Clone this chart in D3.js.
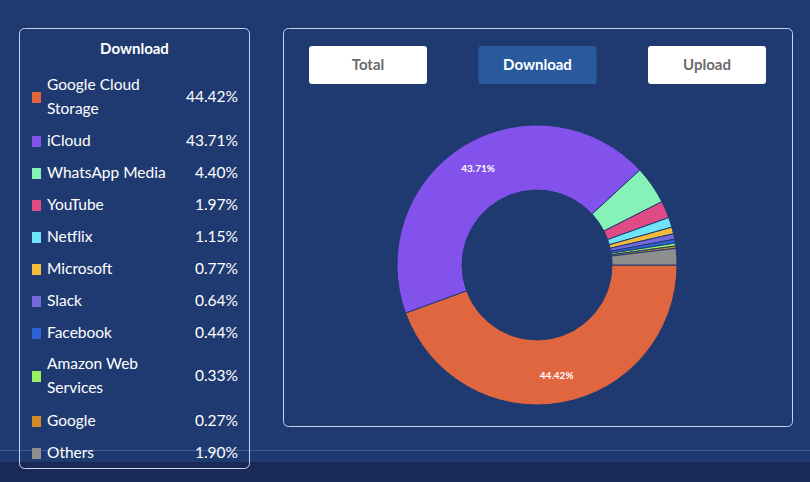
<!DOCTYPE html>
<meta charset="utf-8">
<style>
body { margin:0; background:#1f3a70; font-family:Lato, "Noto Sans", sans-serif; }
svg { display:block; }
</style>
<svg id="chart" width="810" height="482"></svg>
<script src="https://cdn.jsdelivr.net/npm/d3@7"></script>
<script>
var names = ["Google Cloud Storage", "iCloud", "WhatsApp Media", "YouTube", "Netflix", "Microsoft", "Slack", "Facebook", "Amazon Web Services", "Google", "Others"];
var values = [44.42, 43.71, 4.40, 1.97, 1.15, 0.77, 0.64, 0.44, 0.33, 0.27, 1.90];
var colors = ["#e06640", "#8352ec", "#87f2b8", "#e04a85", "#6fe3f7", "#f2bb3a", "#7468dc", "#2f62d6", "#9bef62", "#d18c28", "#8e8e8e"];
var buttons = ["Total", "Download", "Upload"];
var title = "Download";

var svg = d3.select("#chart");

// bottom band
svg.append("rect").attr("x", 0).attr("y", 462).attr("width", 810).attr("height", 20).attr("fill", "#182a55");
svg.append("line").attr("x1", 0).attr("x2", 810).attr("y1", 450.5).attr("y2", 450.5).attr("stroke", "#3d5c98").attr("stroke-width", 1);

// legend box
svg.append("rect").attr("x", 19.5).attr("y", 28.5).attr("width", 230).attr("height", 440).attr("rx", 5)
  .attr("fill", "none").attr("stroke", "#c8d3ea").attr("stroke-width", 1);
svg.append("text").attr("x", 134.5).attr("y", 54).attr("text-anchor", "middle")
  .attr("fill", "#fff").attr("font-weight", "bold").attr("font-size", 15).text(title);

var rowY = [97, 141, 173, 205, 237, 269, 301, 333, 376, 421, 453];
var wrap = { "Google Cloud Storage": ["Google Cloud", "Storage"], "Amazon Web Services": ["Amazon Web", "Services"] };
var rows = svg.append("g").selectAll("g").data(names).join("g")
  .attr("transform", function(d, i) { return "translate(0," + rowY[i] + ")"; });
rows.append("rect").attr("x", 32).attr("y", -5).attr("width", 9).attr("height", 11)
  .attr("fill", function(d, i) { return colors[i]; });
rows.each(function(d) {
  var lines = wrap[d] || [d];
  var t = d3.select(this).append("text").attr("fill", "#fff").attr("font-size", 15.5).attr("x", 47);
  lines.forEach(function(l, k) {
    t.append("tspan").attr("x", 47).attr("y", 5 + (k - (lines.length - 1) / 2) * 24).text(l);
  });
});
rows.append("text").attr("x", 238).attr("y", 5).attr("text-anchor", "end")
  .attr("fill", "#fff").attr("font-size", 15.5).text(function(d, i) { return values[i].toFixed(2) + "%"; });

// panel
svg.append("rect").attr("x", 283.5).attr("y", 28.5).attr("width", 509).attr("height", 398).attr("rx", 5)
  .attr("fill", "none").attr("stroke", "#c8d3ea").attr("stroke-width", 1);

var bx = d3.scalePoint().domain(buttons).range([368, 707]);
var b = svg.append("g").selectAll("g").data(buttons).join("g")
  .attr("transform", function(d) { return "translate(" + bx(d) + ",65)"; });
b.append("rect").attr("x", -59).attr("y", -19).attr("width", 118).attr("height", 38).attr("rx", 3)
  .attr("fill", function(d) { return d === title ? "#2a5a9e" : "#fff"; });
b.append("text").attr("y", 5).attr("text-anchor", "middle").attr("font-size", 15).attr("font-weight", "bold")
  .attr("fill", function(d) { return d === title ? "#fff" : "#6b6b6b"; }).text(function(d) { return d; });

// donut
var pie = d3.pie().sort(null).startAngle(Math.PI / 2).endAngle(Math.PI / 2 + 2 * Math.PI);
var arcs = pie(values);
var arc = d3.arc().innerRadius(75).outerRadius(140);
var g = svg.append("g").attr("transform", "translate(537,265)");
g.selectAll("path").data(arcs).join("path").attr("d", arc)
  .attr("fill", function(d, i) { return colors[i]; })
  .attr("stroke", "#1f3a70").attr("stroke-width", 1);
var lab = d3.arc().innerRadius(113).outerRadius(113);
g.selectAll("text").data(arcs.filter(function(d) { return d.value > 10; })).join("text")
  .attr("transform", function(d) { var c = lab.centroid(d); return "translate(" + c[0] + "," + (c[1] + 3) + ")"; })
  .attr("text-anchor", "middle").attr("font-size", 10).attr("font-weight", "bold").attr("fill", "#fff")
  .text(function(d) { return d.value.toFixed(2) + "%"; });
</script>
